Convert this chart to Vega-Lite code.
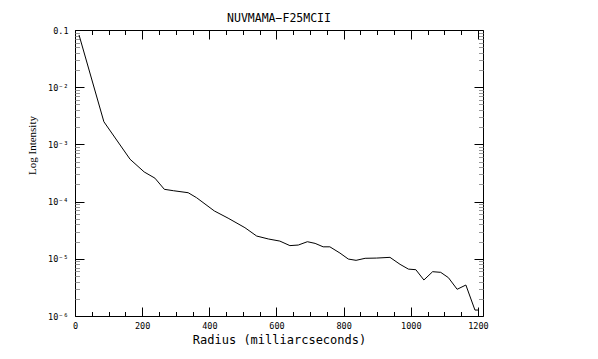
{
  "$schema": "https://vega.github.io/schema/vega-lite/v6.json",
  "width": 408,
  "height": 286,
  "autosize": {"type": "none"},
  "padding": {"left": 75, "top": 30, "right": 115, "bottom": 43},
  "background": "white",
  "view": {"stroke": "black", "strokeWidth": 1},
  "title": {"text": "NUVMAMA−F25MCII", "font": "DejaVu Sans Mono", "fontSize": 11.5, "fontWeight": "normal", "color": "black", "anchor": "middle", "frame": "group", "baseline": "alphabetic", "offset": 8, "dy": 15},
  "config": {
    "axis": {"domain": false, "grid": false, "tickColor": "black", "tickWidth": 1, "labelColor": "black", "titleColor": "black", "labelFlush": false, "labelOverlap": false}
  },
  "data": {"values": [
    {"r": 12, "v": 0.082},
    {"r": 86, "v": 0.00249},
    {"r": 164, "v": 0.00055},
    {"r": 206, "v": 0.00033},
    {"r": 238, "v": 0.000257},
    {"r": 266, "v": 0.000164},
    {"r": 293, "v": 0.000155},
    {"r": 337, "v": 0.000143},
    {"r": 362, "v": 0.000117},
    {"r": 415, "v": 0.0000686},
    {"r": 456, "v": 0.0000513},
    {"r": 506, "v": 0.000035},
    {"r": 541, "v": 0.000025},
    {"r": 576, "v": 0.0000222},
    {"r": 610, "v": 0.0000204},
    {"r": 640, "v": 0.000017},
    {"r": 665, "v": 0.0000174},
    {"r": 692, "v": 0.0000199},
    {"r": 715, "v": 0.0000186},
    {"r": 739, "v": 0.0000162},
    {"r": 759, "v": 0.0000162},
    {"r": 789, "v": 0.0000126},
    {"r": 814, "v": 0.0000099},
    {"r": 837, "v": 0.0000094},
    {"r": 864, "v": 0.0000102},
    {"r": 898, "v": 0.0000103},
    {"r": 938, "v": 0.0000106},
    {"r": 968, "v": 0.000008},
    {"r": 993, "v": 0.0000066},
    {"r": 1015, "v": 0.00000645},
    {"r": 1039, "v": 0.00000426},
    {"r": 1065, "v": 0.00000595},
    {"r": 1089, "v": 0.0000058},
    {"r": 1112, "v": 0.00000468},
    {"r": 1138, "v": 0.00000293},
    {"r": 1164, "v": 0.00000348},
    {"r": 1191, "v": 0.00000127},
    {"r": 1201, "v": 0.00000127}
  ]},
  "resolve": {"axis": {"x": "independent", "y": "independent"}},
  "layer": [
    {
      "mark": {"type": "line", "color": "black", "strokeWidth": 1},
      "encoding": {
        "x": {"field": "r", "type": "quantitative", "scale": {"domain": [0, 1215], "nice": false, "zero": false},
          "axis": {"orient": "bottom", "values": [0, 200, 400, 600, 800, 1000, 1200], "format": "d", "ticks": false, "labelFont": "DejaVu Sans Mono", "labelFontSize": 8.5, "labelPadding": 5,
            "title": "Radius (milliarcseconds)", "titleFont": "DejaVu Sans Mono", "titleFontSize": 12, "titleFontWeight": "normal", "titleBaseline": "alphabetic", "titleY": 27}},
        "y": {"field": "v", "type": "quantitative", "scale": {"type": "log", "domain": [0.000001, 0.1], "nice": false},
          "axis": {"orient": "left", "values": [0.000001, 0.00001, 0.0001, 0.001, 0.01, 0.1], "ticks": false, "labelFont": "DejaVu Sans Mono", "labelFontSize": 8.5, "labelPadding": 7,
            "labelExpr": "datum.value > 0.05 ? '0.1' : '10' + ['⁰','⁻¹','⁻²','⁻³','⁻⁴','⁻⁵','⁻⁶'][round(-log(datum.value)/LN10)]",
            "title": "Log Intensity", "titleFont": "Liberation Serif", "titleFontSize": 11, "titleFontWeight": "normal", "titleAngle": -90, "titleBaseline": "middle", "titleX": -43, "titleY": 115}}
      }
    },
    {
      "mark": {"type": "line", "opacity": 0},
      "encoding": {
        "x": {"field": "r", "type": "quantitative", "axis": {"orient": "bottom", "values": [0, 200, 400, 600, 800, 1000, 1200], "labels": false, "tickSize": -9, "title": null}},
        "y": {"field": "v", "type": "quantitative", "axis": {"orient": "left", "values": [0.000001, 0.00001, 0.0001, 0.001, 0.01, 0.1], "labels": false, "tickSize": -9, "title": null}}
      }
    },
    {
      "mark": {"type": "line", "opacity": 0},
      "encoding": {
        "x": {"field": "r", "type": "quantitative", "axis": {"orient": "bottom", "values": [50, 100, 150, 250, 300, 350, 450, 500, 550, 650, 700, 750, 850, 900, 950, 1050, 1100, 1150], "labels": false, "tickSize": -4.5, "title": null}},
        "y": {"field": "v", "type": "quantitative", "axis": {"orient": "left", "values": [2e-6, 3e-6, 4e-6, 5e-6, 6e-6, 7e-6, 8e-6, 9e-6, 2e-5, 3e-5, 4e-5, 5e-5, 6e-5, 7e-5, 8e-5, 9e-5, 2e-4, 3e-4, 4e-4, 5e-4, 6e-4, 7e-4, 8e-4, 9e-4, 2e-3, 3e-3, 4e-3, 5e-3, 6e-3, 7e-3, 8e-3, 9e-3, 2e-2, 3e-2, 4e-2, 5e-2, 6e-2, 7e-2, 8e-2, 9e-2], "labels": false, "tickSize": -4.5, "tickColor": "#999999", "title": null}}
      }
    },
    {
      "mark": {"type": "line", "opacity": 0},
      "encoding": {
        "x": {"field": "r", "type": "quantitative", "axis": {"orient": "top", "values": [0, 200, 400, 600, 800, 1000, 1200], "labels": false, "tickSize": -9, "title": null}},
        "y": {"field": "v", "type": "quantitative", "axis": {"orient": "right", "values": [0.000001, 0.00001, 0.0001, 0.001, 0.01, 0.1], "labels": false, "tickSize": -9, "title": null}}
      }
    },
    {
      "mark": {"type": "line", "opacity": 0},
      "encoding": {
        "x": {"field": "r", "type": "quantitative", "axis": {"orient": "top", "values": [50, 100, 150, 250, 300, 350, 450, 500, 550, 650, 700, 750, 850, 900, 950, 1050, 1100, 1150], "labels": false, "tickSize": -4.5, "title": null}},
        "y": {"field": "v", "type": "quantitative", "axis": {"orient": "right", "values": [2e-6, 3e-6, 4e-6, 5e-6, 6e-6, 7e-6, 8e-6, 9e-6, 2e-5, 3e-5, 4e-5, 5e-5, 6e-5, 7e-5, 8e-5, 9e-5, 2e-4, 3e-4, 4e-4, 5e-4, 6e-4, 7e-4, 8e-4, 9e-4, 2e-3, 3e-3, 4e-3, 5e-3, 6e-3, 7e-3, 8e-3, 9e-3, 2e-2, 3e-2, 4e-2, 5e-2, 6e-2, 7e-2, 8e-2, 9e-2], "labels": false, "tickSize": -4.5, "tickColor": "#999999", "title": null}}
      }
    }
  ]
}
